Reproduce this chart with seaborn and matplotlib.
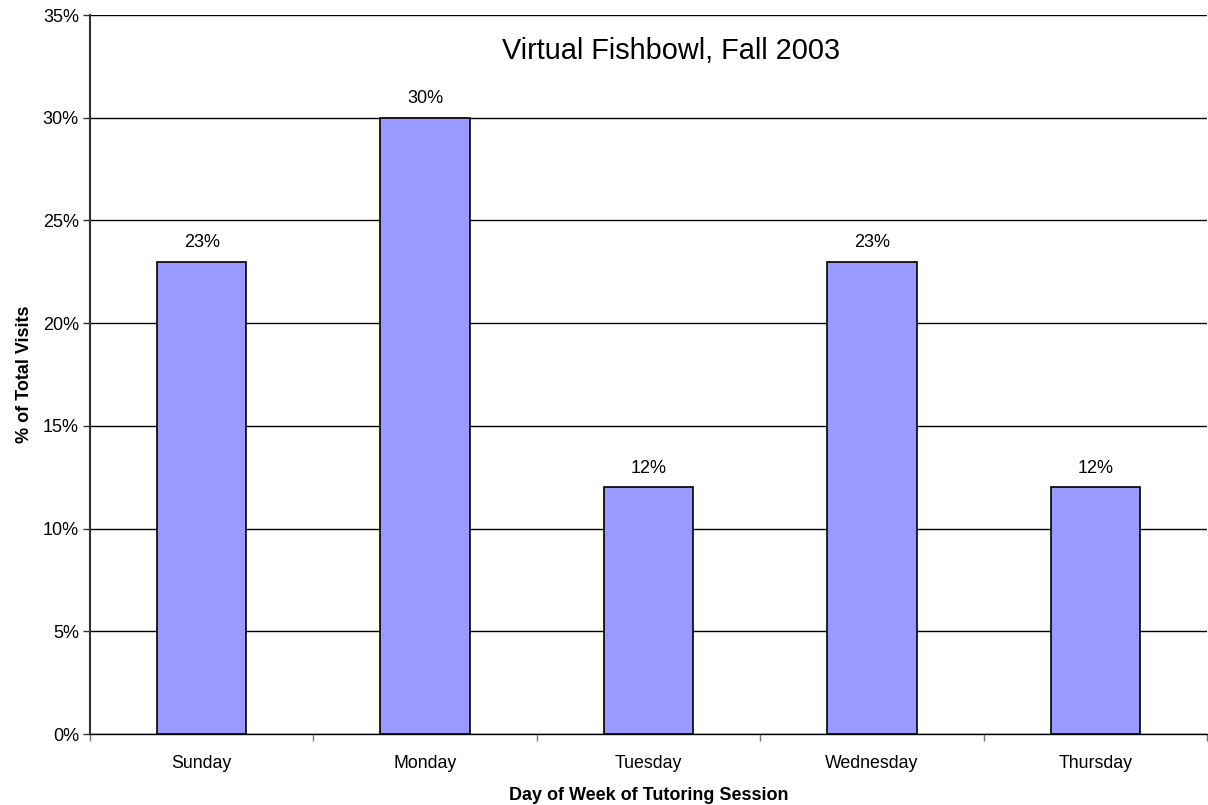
import matplotlib
matplotlib.use('Agg')
import matplotlib.pyplot as plt
import seaborn as sns
import pandas as pd
import numpy as np

days = ['Sunday', 'Monday', 'Tuesday', 'Wednesday', 'Thursday']
visits = [23, 30, 12, 23, 12]
yticks = [0, 5, 10, 15, 20, 25, 30, 35]

df = pd.DataFrame({'day': days, 'pct': visits})

sns.set_style('white')
plt.rcParams['font.family'] = ['Liberation Sans', 'DejaVu Sans']
plt.rcParams['text.color'] = 'black'
plt.rcParams['axes.labelcolor'] = 'black'
plt.rcParams['xtick.color'] = 'black'
plt.rcParams['ytick.color'] = 'black'

fig = plt.figure(figsize=(12.08, 8.05), dpi=100)
ax = fig.add_axes([90 / 1208, 1 - 734 / 805, 1117 / 1208, 719 / 805])

sns.barplot(data=df, x='day', y='pct', color='#9999ff', saturation=1,
            width=0.4, edgecolor='black', linewidth=1.2, ax=ax, zorder=3)

ax.set_ylim(0, 35)
ax.set_xlim(-0.5, len(days) - 0.5)
ax.set_yticks(yticks)
ax.set_yticklabels([f'{t}%' for t in yticks], fontsize=13)
ax.yaxis.grid(True, color='black', linewidth=1, zorder=0)
ax.set_axisbelow(True)
ax.tick_params(axis='y', which='major', direction='out', length=5, width=1, color='#333333', left=True, pad=3)
ax.tick_params(axis='x', which='major', length=0, labelsize=12.8, pad=15)
ax.set_xticks(np.arange(-0.5, len(days)), minor=True)
ax.tick_params(axis='x', which='minor', direction='out', length=5, width=1, color='#777777', bottom=True)

for s in ['top', 'right']:
    ax.spines[s].set_visible(False)
ax.spines['left'].set_color('#333333')
ax.spines['left'].set_linewidth(1.5)
ax.spines['bottom'].set_color('black')
ax.spines['bottom'].set_linewidth(1)

for i, v in enumerate(visits):
    ax.text(i, v + 0.5, f'{v}%', ha='center', va='bottom', fontsize=13)

ax.set_xlabel('Day of Week of Tutoring Session', fontsize=13, fontweight='bold', labelpad=11)
ax.set_ylabel('% of Total Visits', fontsize=13, fontweight='bold', labelpad=7)
fig.text(671 / 1208, 1 - 51 / 805, 'Virtual Fishbowl, Fall 2003', ha='center', va='center', fontsize=20.8)

fig.savefig('out.png', dpi=100)
